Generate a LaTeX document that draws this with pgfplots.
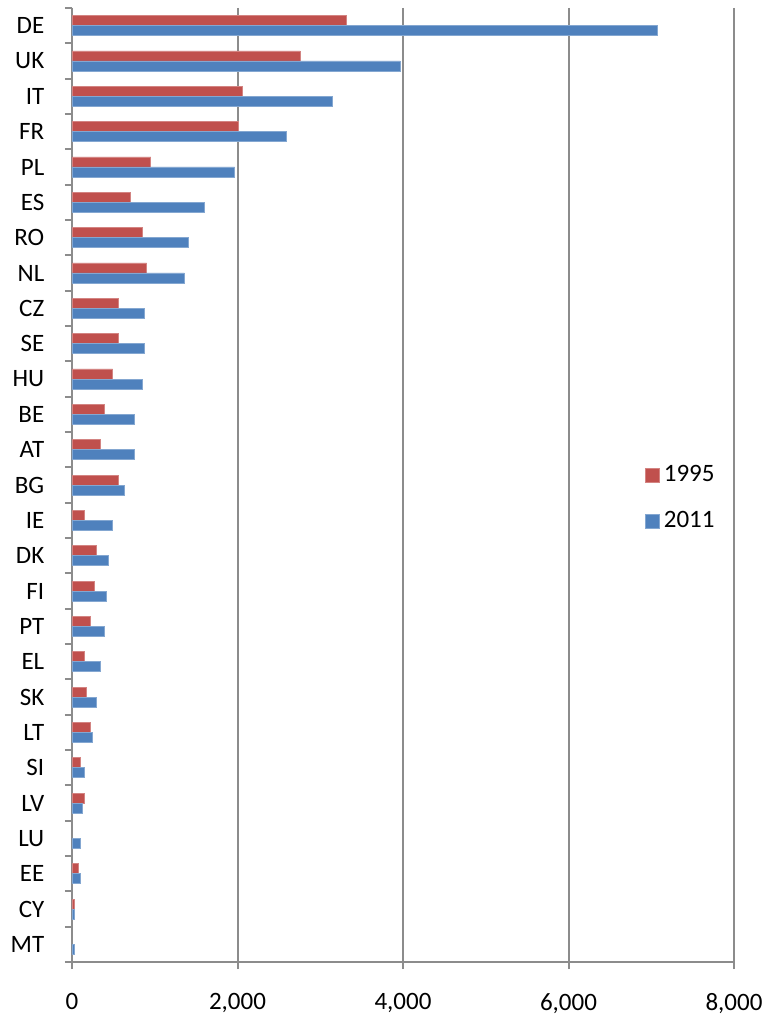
\documentclass[border=0pt]{standalone}
\usepackage{fontspec}
\setmainfont{Carlito}
\usepackage{pgfplots}
\pgfplotsset{compat=1.18}
\definecolor{xred}{HTML}{C0504D}
\definecolor{xblue}{HTML}{4F81BD}
\definecolor{xgrid}{HTML}{8C8C8C}

\begin{document}
\fontsize{12.5}{15}\selectfont
\begin{tikzpicture}
\begin{axis}[
  scale only axis,
  width=331pt, height=477pt,
  xbar, bar width=5pt,
  xmin=0, xmax=8000,
  ymin=-0.5, ymax=26.5,
  y dir=reverse,
  xtick={0,2000,4000,6000,8000},
  ytick={0,...,26},
  yticklabels={DE,UK,IT,FR,PL,ES,RO,NL,CZ,SE,HU,BE,AT,BG,IE,DK,FI,PT,EL,SK,LT,SI,LV,LU,EE,CY,MT},
  minor ytick={-0.5,0.5,...,26.5},
  major y tick style={draw=none},
  minor y tick style={xgrid, line width=1pt},
  minor tick length=3.5pt,
  major tick length=3.5pt,
  tick align=outside,
  x tick style={xgrid, line width=1pt},
  xmajorgrids,
  grid style={xgrid, line width=1pt},
  axis x line*=bottom, axis y line*=left,
  axis line style={xgrid, line width=1pt, -},
  scaled x ticks=false,
  /pgf/number format/.cd, 1000 sep={,}, assume math mode=true,
  /pgfplots/.cd,
  xticklabel style={yshift=-8pt, font=\fontsize{12.5}{15}\selectfont},
  yticklabel style={xshift=-6pt, font=\fontsize{12.5}{15}\selectfont},
  legend style={at={(rel axis cs:0.856,0.486)}, anchor=west, draw=none, fill=none,
    font=\fontsize{12.5}{15}\selectfont, row sep=9pt,
    /tikz/every even column/.append style={column sep=3pt}},
  legend image code/.code={\fill[#1] (0pt,-3.5pt) rectangle (7pt,3.5pt);},
]
\addplot[fill=xred, draw=xred!70!white, bar shift=2.5pt] coordinates {
(3315,0) (2758,1) (2060,2) (2016,3) (952,4) (710,5) (855,6) (903,7) (565,8)
(565,9) (492,10) (395,11) (347,12) (565,13) (153,14) (298,15) (274,16) (226,17)
(153,18) (177,19) (226,20) (105,21) (153,22) (81,24) (32,25)
};
\addplot[fill=xblue, draw=xblue!70!white, bar shift=-2.5pt] coordinates {
(7070,0) (3966,1) (3149,2) (2593,3) (1964,4) (1601,5) (1407,6) (1359,7) (879,8)
(879,9) (855,10) (758,11) (758,12) (637,13) (492,14) (444,15) (419,16) (395,17)
(347,18) (298,19) (250,20) (153,21) (129,22) (105,23) (105,24) (32,25) (32,26)
};
\legend{1995,2011}
\end{axis}
\pgfresetboundingbox
\path ([xshift=-36pt,yshift=-26pt]current axis.south west) rectangle ([xshift=18.5pt,yshift=4pt]current axis.north east);
\end{tikzpicture}
\end{document}
